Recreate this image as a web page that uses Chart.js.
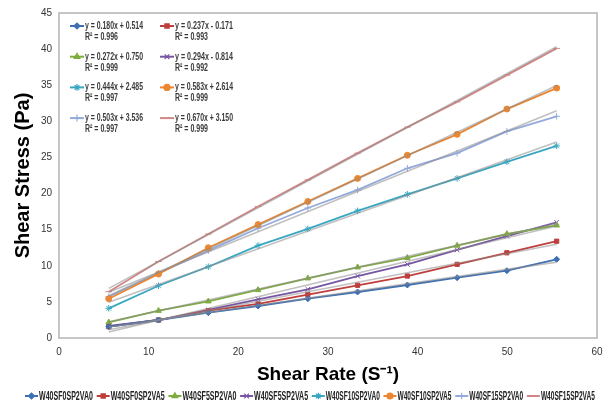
<!DOCTYPE html>
<html>
<head>
<meta charset="utf-8">
<script src="https://cdn.jsdelivr.net/npm/chart.js@4/dist/chart.umd.min.js"></script>
<style>
  html, body { margin: 0; padding: 0; background: #ffffff; }
  #wrap { width: 605px; height: 408px; }
</style>
</head>
<body>
<div id="wrap"><canvas id="chart" width="605" height="408"></canvas></div>
<script>
// Shear rate steps (1/s)
const shearRate = [5.55, 11.1, 16.65, 22.2, 27.75, 33.3, 38.85, 44.4, 49.95, 55.5];

// Measured shear stress (Pa) for each mix
const sf0va0  = [1.57, 2.49, 3.51, 4.43, 5.44, 6.37, 7.34, 8.35, 9.32, 10.9];
const sf0va5  = [1.57, 2.49, 3.78, 4.71, 6.00, 7.30, 8.58, 10.2, 11.8, 13.4];
const sf5va0  = [2.17, 3.78, 5.08, 6.65, 8.27, 9.79, 11.1, 12.8, 14.4, 15.6];
const sf5va5  = [1.66, 2.49, 3.88, 5.36, 6.74, 8.58, 10.2, 12.2, 14.1, 16.0];
const sf10va0 = [4.11, 7.24, 9.87, 12.8, 15.1, 17.6, 19.9, 22.1, 24.4, 26.6];
const sf10va5 = [5.44, 8.86, 12.5, 15.7, 18.9, 22.1, 25.3, 28.2, 31.7, 34.6];
const sf15va0 = [5.72, 8.96, 12.1, 15.2, 18.0, 20.5, 23.5, 25.6, 28.6, 30.7];
const sf15va5 = [6.41, 10.6, 14.4, 18.2, 21.9, 25.6, 29.2, 32.7, 36.4, 40.1];

const seriesNames = ['W40SF0SP2VA0', 'W40SF0SP2VA5', 'W40SF5SP2VA0', 'W40SF5SP2VA5',
                     'W40SF10SP2VA0', 'W40SF10SP2VA5', 'W40SF15SP2VA0', 'W40SF15SP2VA5'];
const seriesValues = [sf0va0, sf0va5, sf5va0, sf5va5, sf10va0, sf10va5, sf15va0, sf15va5];

// Linear fits: y = slope * x + intercept
const fitSlopes     = [0.180, 0.237, 0.272, 0.294, 0.444, 0.583, 0.503, 0.670];
const fitIntercepts = [0.514, -0.171, 0.750, -0.814, 2.485, 2.614, 3.536, 3.150];
const fitR2         = [0.996, 0.993, 0.999, 0.992, 0.997, 0.999, 0.997, 0.999];

// Axis ticks
const xTicks = [0, 10, 20, 30, 40, 50, 60];
const yTicks = [0, 5, 10, 15, 20, 25, 30, 35, 40, 45];

const seriesColors = ['#3f6fb3', '#bf3f3c', '#7fac3e', '#7655a3', '#3aa7c2', '#ec8630', '#93aadb', '#d08886'];
const markerStyles = ['rectRot', 'rect', 'triangle', 'crossRot', 'star', 'circle', 'cross', 'line'];
const markerRadius = [3, 3, 3.3, 3.3, 3.3, 3, 3.3, 3.3];

const FONT = "'Liberation Sans', Arial, sans-serif";
const NARROW = "'Liberation Sans Narrow', 'Liberation Sans', Arial, sans-serif";

const datasets = [];
seriesNames.forEach((name, i) => {
  datasets.push({
    label: name,
    data: shearRate.map((x, k) => ({ x: x, y: seriesValues[i][k] })),
    borderColor: seriesColors[i],
    backgroundColor: seriesColors[i],
    borderWidth: 1.8,
    pointStyle: markerStyles[i],
    pointRadius: markerRadius[i],
    pointBorderWidth: 1,
    pointBorderColor: seriesColors[i],
    pointBackgroundColor: seriesColors[i],
    tension: 0,
    order: 2
  });
});
// Gray fit lines across the measured range, taken from the stated equations
seriesNames.forEach((name, i) => {
  const x0 = shearRate[0], x1 = shearRate[shearRate.length - 1];
  datasets.push({
    label: 'fit ' + name,
    data: [
      { x: x0, y: fitSlopes[i] * x0 + fitIntercepts[i] },
      { x: x1, y: fitSlopes[i] * x1 + fitIntercepts[i] }
    ],
    borderColor: 'rgba(140,140,140,0.55)',
    borderWidth: 1.6,
    pointRadius: 0,
    order: 1
  });
});

function fmt(v) { return v.toFixed(3); }

// Plot frame plus the two legends (fit equations inside, series names underneath)
const decorations = {
  id: 'decorations',
  beforeDatasetsDraw(chart) {
    const { ctx, chartArea: a } = chart;
    ctx.save();
    ctx.strokeStyle = '#b4b4b4';
    ctx.lineWidth = 1.5;
    ctx.strokeRect(a.left, a.top, a.right - a.left, a.bottom - a.top);
    ctx.restore();
  },
  afterDraw(chart) {
    const { ctx, chartArea: a } = chart;
    const drawSample = (i, x0, x1, y) => {
      ctx.save();
      ctx.strokeStyle = seriesColors[i];
      ctx.fillStyle = seriesColors[i];
      ctx.lineWidth = 2;
      ctx.beginPath();
      ctx.moveTo(x0, y);
      ctx.lineTo(x1, y);
      ctx.stroke();
      ctx.lineWidth = 1.2;
      Chart.helpers.drawPoint(ctx, {
        pointStyle: markerStyles[i], radius: markerRadius[i], borderWidth: 1.2, rotation: 0
      }, (x0 + x1) / 2, y);
      ctx.restore();
    };

    // Fit equations, two columns by four rows
    ctx.save();
    ctx.textBaseline = 'middle';
    ctx.textAlign = 'left';
    for (let i = 0; i < seriesNames.length; i++) {
      const col = i % 2, row = Math.floor(i / 2);
      const lx = a.left + 11 + col * 90;
      const ly = a.top + 13 + row * 30.7;
      drawSample(i, lx, lx + 14, ly);
      const b = fitIntercepts[i];
      const eq = 'y = ' + fmt(fitSlopes[i]) + 'x ' + (b < 0 ? '- ' : '+ ') + fmt(Math.abs(b));
      ctx.fillStyle = '#3a3a3a';
      ctx.font = 'bold 10.5px ' + NARROW;
      ctx.fillText(eq, lx + 15, ly, 58);
      ctx.fillText('R\u00b2 = ' + fmt(fitR2[i]), lx + 15, ly + 11, 33);
    }
    ctx.restore();

    // Series names along the bottom
    ctx.save();
    ctx.textBaseline = 'middle';
    ctx.textAlign = 'left';
    const ly = 396;
    for (let i = 0; i < seriesNames.length; i++) {
      const sx = 25 + i * 71.7;
      drawSample(i, sx, sx + 13, ly);
      ctx.fillStyle = '#222222';
      ctx.font = 'bold 13.5px ' + NARROW;
      ctx.fillText(seriesNames[i], sx + 14, ly, 54);
    }
    ctx.restore();
  }
};

new Chart(document.getElementById('chart'), {
  type: 'line',
  data: { datasets: datasets },
  options: {
    responsive: false,
    animation: false,
    layout: { padding: { left: 0, right: 8, top: 13, bottom: 22 } },
    plugins: {
      legend: { display: false },
      tooltip: { enabled: false }
    },
    scales: {
      x: {
        type: 'linear',
        min: xTicks[0],
        max: xTicks[xTicks.length - 1],
        afterFit: s => { s.height = 48; s.paddingLeft = 0; s.paddingRight = 0; },
        afterBuildTicks: s => { s.ticks = xTicks.map(v => ({ value: v })); },
        grid: { display: false, drawTicks: false },
        border: { display: false },
        ticks: { padding: 8, color: '#333333', font: { family: FONT, size: 10 } },
        title: {
          display: true,
          text: 'Shear Rate (S\u207b\u00b9)',
          color: '#000000',
          padding: { top: 0, bottom: 0 },
          font: { family: FONT, size: 19, weight: 'bold' }
        }
      },
      y: {
        min: yTicks[0],
        max: yTicks[yTicks.length - 1],
        afterFit: s => { s.width = 59; s.paddingTop = 0; s.paddingBottom = 0; },
        afterBuildTicks: s => { s.ticks = yTicks.map(v => ({ value: v })); },
        grid: { display: false, drawTicks: false },
        border: { display: false },
        ticks: { padding: 7, color: '#333333', font: { family: FONT, size: 10 } },
        title: {
          display: true,
          text: 'Shear Stress (Pa)',
          color: '#000000',
          padding: { top: 11, bottom: 0 },
          font: { family: FONT, size: 20, weight: 'bold' }
        }
      }
    }
  },
  plugins: [decorations]
});
</script>
</body>
</html>
